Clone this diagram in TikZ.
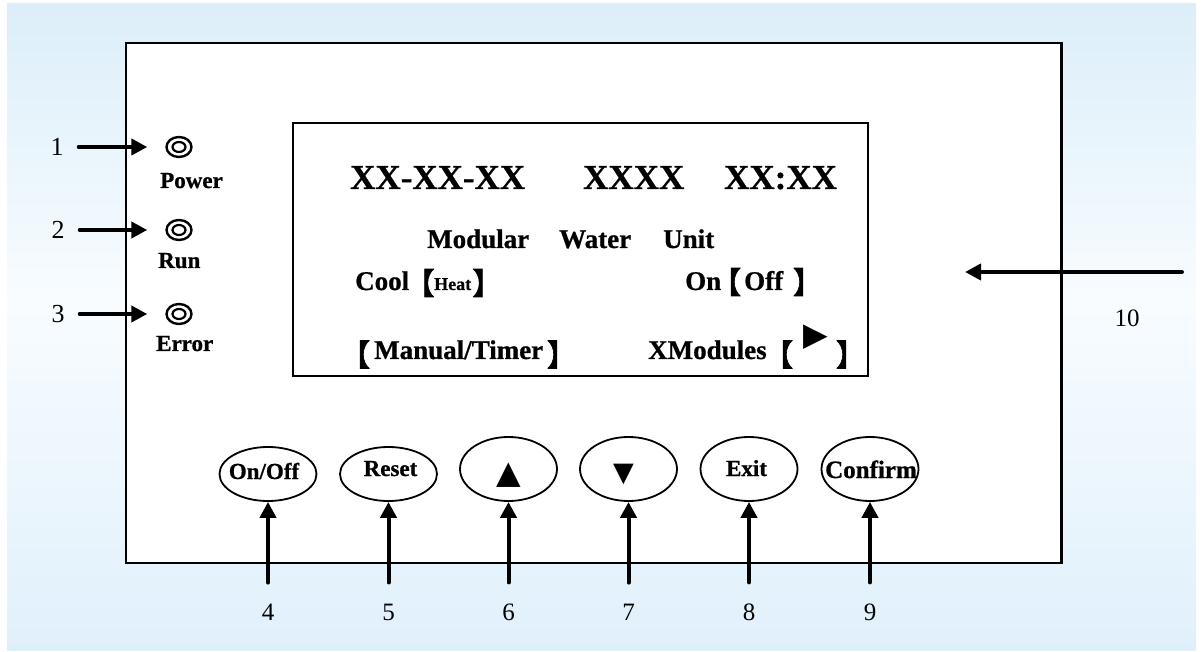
\documentclass[tikz,border=0pt]{standalone}
\usepackage{fontspec}
\setmainfont{Liberation Serif}[BoldFeatures={FakeBold=0.8}]
\newfontfamily\cjk{Noto Sans CJK SC}[RawFeature={+palt}, FakeBold=2]
\newfontfamily\symf{DejaVu Sans}
\usetikzlibrary{arrows.meta,shapes.geometric}
\newcommand\fsz[1]{\fontsize{#1}{#1}\selectfont}
\definecolor{bgtop}{HTML}{DCEEF9}
\definecolor{bgmid}{HTML}{F8FCFF}
\definecolor{bgbot}{HTML}{E0F0FB}
\begin{document}
\begin{tikzpicture}[x=1pt,y=-1pt,
  txt/.style={inner sep=0pt, font=\bfseries\fsz{27}, anchor=base west},
  big/.style={inner sep=0pt, font=\bfseries\fsz{35}, anchor=base west},
  brk/.style={inner sep=0pt, font=\cjk\fsz{30}},
  num/.style={inner sep=0pt, font=\fsz{25}},
  arr/.style={line width=4pt, line cap=round, -{Triangle[length=16pt,width=16pt]}},
  btn/.style={ellipse, draw, line width=1.8pt, inner sep=0pt, minimum width=97pt},
  btxt/.style={inner sep=0pt, font=\bfseries\fsz{23}},
  led/.style={ellipse, draw, line width=2.4pt, minimum width=25pt, minimum height=20pt, inner sep=0pt},
  symb/.style={inner sep=0pt, font=\symf\fsz{32}}
]
\useasboundingbox (0,0) rectangle (1203,652);
% background
\shade[top color=bgtop, bottom color=bgmid] (7,4) rectangle (1196,300);
\shade[top color=bgmid, bottom color=bgbot] (7,299.5) rectangle (1196,650);
% outer panel
\draw[line width=2.3pt, fill=white] (125.7,43) rectangle (1061.5,563);
% LCD
\draw[line width=2pt] (292.7,123.3) rectangle (867.5,376.5);

% LEDs
\node[led] (led1) at (179,147) {};
\node[led] (led2) at (179,230) {};
\node[led] (led3) at (179,314) {};
\foreach \i in {1,2,3}{
  \draw[line width=2.2pt] (led\i.center) ellipse [x radius=6.5pt, y radius=5pt];
}
\node[txt, font=\bfseries\fsz{23}] (tpow) at (160,188) {Power};
\node[txt, font=\bfseries\fsz{23}] (trun) at (158,268) {Run};
\node[txt, font=\bfseries\fsz{23}] (terr) at (156,351) {Error};

\node[num, font=\fsz{26}] (l1) at (57,147) {1};
\node[num, font=\fsz{26}] (l2) at (58,230) {2};
\node[num, font=\fsz{26}] (l3) at (58,314) {3};
\foreach \i in {1,2,3}{
  \draw[arr, shorten <=15pt, shorten >=18pt] (l\i) -- (led\i);
}

% LCD texts
\node[big] (d1) at (350,189) {XX-XX-XX};
\node[big] (d2) at (583,189) {XXXX};
\node[big] (d3) at (724,189) {XX:XX};
\node[txt] (m1) at (427,248) {Modular};
\node[txt] (m2) at (559,248) {Water};
\node[txt] (m3) at (663,248) {Unit};
\node[txt] (cool) at (355,290) {Cool};
\node[brk] (b1l) at (426.5,283) {【};
\node[txt, font=\bfseries\fsz{18}] (heat) at (434,290) {Heat};
\node[brk] (b1r) at (480.5,283) {】};
\node[txt] (on) at (685,290) {On};
\node[brk] (b2l) at (733,282) {【};
\node[txt] (off) at (744,290) {Off};
\node[brk] (b2r) at (801,282) {】};
\node[brk] (b3l) at (362,354.5) {【};
\node[txt] (man) at (374,359) {Manual/Timer};
\node[brk] (b3r) at (555,354.5) {】};
\node[txt] (xmod) at (648,359) {XModules};
\node[brk] (b4l) at (785,354.5) {【};
\node[symb] (play) at (815.5,337) {▶};
\node[brk] (b4r) at (844,354.5) {】};

% buttons
\node[btn, minimum height=54pt] (k1) at (268,474) {};
\node[btn, minimum height=54pt] (k2) at (388.5,474) {};
\node[btn, minimum height=64pt] (k3) at (508.5,469) {};
\node[btn, minimum height=64pt] (k4) at (628.5,469) {};
\node[btn, minimum height=64pt] (k5) at (749,469) {};
\node[btn, minimum height=64pt] (k6) at (870,469) {};
\node[btxt, anchor=base] (k1t) at (264,479) {On/Off};
\node[btxt, anchor=base] (k2t) at (390.5,476) {Reset};
\node[symb] (k3t) at (508.5,475.5) {▲};
\node[symb, font=\symf\fsz{27}] (k4t) at (623.5,474) {▼};
\node[btxt, anchor=base] (k5t) at (746.5,476) {Exit};
\node[btxt, anchor=base, font=\bfseries\fsz{25}] (k6t) at (871,478) {Confirm};

\node[num] (l4) at (268,612) {4};
\node[num] (l5) at (388.5,612) {5};
\node[num] (l6) at (508.5,612) {6};
\node[num] (l7) at (628.5,612) {7};
\node[num] (l8) at (749,612) {8};
\node[num] (l9) at (870,612) {9};
\foreach \i in {4,5,6,7,8,9}{
  \pgfmathtruncatemacro\k{\i-3}
  \draw[arr, shorten <=21pt] (l\i) -- (k\k);
}

% arrow 10
\coordinate (a10s) at (1182,272);
\coordinate (a10e) at (965,272);
\draw[arr] (a10s) -- (a10e);
\node[num] (l10) at (1127,318) {10};
\end{tikzpicture}
\end{document}
